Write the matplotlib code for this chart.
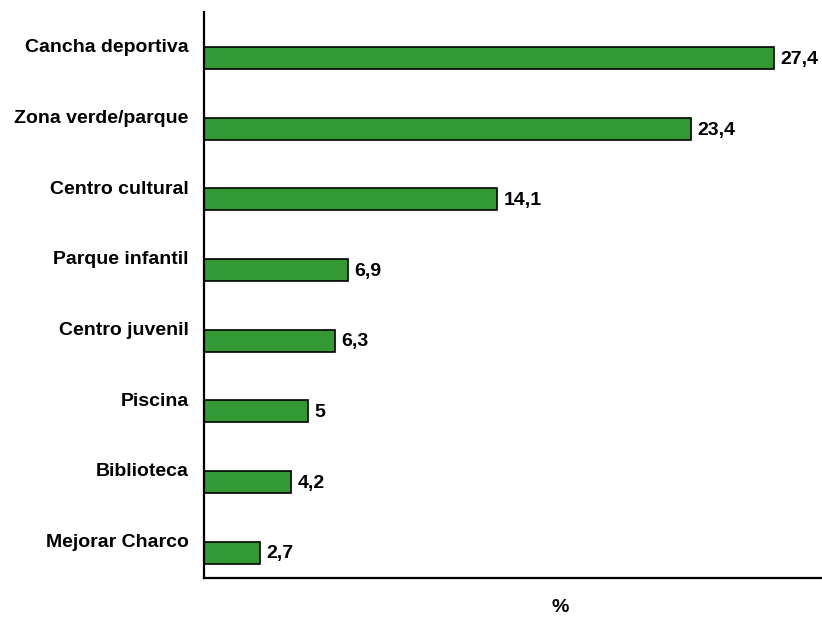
import matplotlib
matplotlib.use("Agg")
import matplotlib.pyplot as plt

categories = ["Cancha deportiva", "Zona verde/parque", "Centro cultural", "Parque infantil",
              "Centro juvenil", "Piscina", "Biblioteca", "Mejorar Charco"]
values = [27.4, 23.4, 14.1, 6.9, 6.3, 5.0, 4.2, 2.7]
value_labels = ["27,4", "23,4", "14,1", "6,9", "6,3", "5", "4,2", "2,7"]

plt.rcParams['font.family'] = ['Liberation Sans', 'DejaVu Sans']

fig = plt.figure(figsize=(8.22, 6.18), dpi=100)
ax = fig.add_axes([204/822, 1 - 578/618, 1 - 204/822, (578 - 12)/618])

n = len(categories)
pos = [n - 1 - i for i in range(n)]
ax.barh(pos, values, height=0.31, color="#339933", edgecolor="black", linewidth=1.2)

fs = 14
for p, v, lab in zip(pos, values, value_labels):
    ax.text(v + 0.3, p - 0.02, lab, va="center", ha="left", fontsize=fs, fontweight="bold")

ax.set_xlim(0, 29.7)
ax.set_ylim(-0.36, n - 1 + 0.65)
ax.set_yticks([p + 0.17 for p in pos])
ax.set_yticklabels(categories, fontsize=fs, fontweight="bold")
ax.tick_params(axis="y", length=0, pad=11)
ax.set_xticks([])
for s in ["top", "right"]:
    ax.spines[s].set_visible(False)
for s in ["left", "bottom"]:
    ax.spines[s].set_linewidth(1.6)

fig.text(560/822, 1 - 607/618, "%", ha="center", va="center", fontsize=fs, fontweight="bold")

fig.savefig("out.png", dpi=100)
